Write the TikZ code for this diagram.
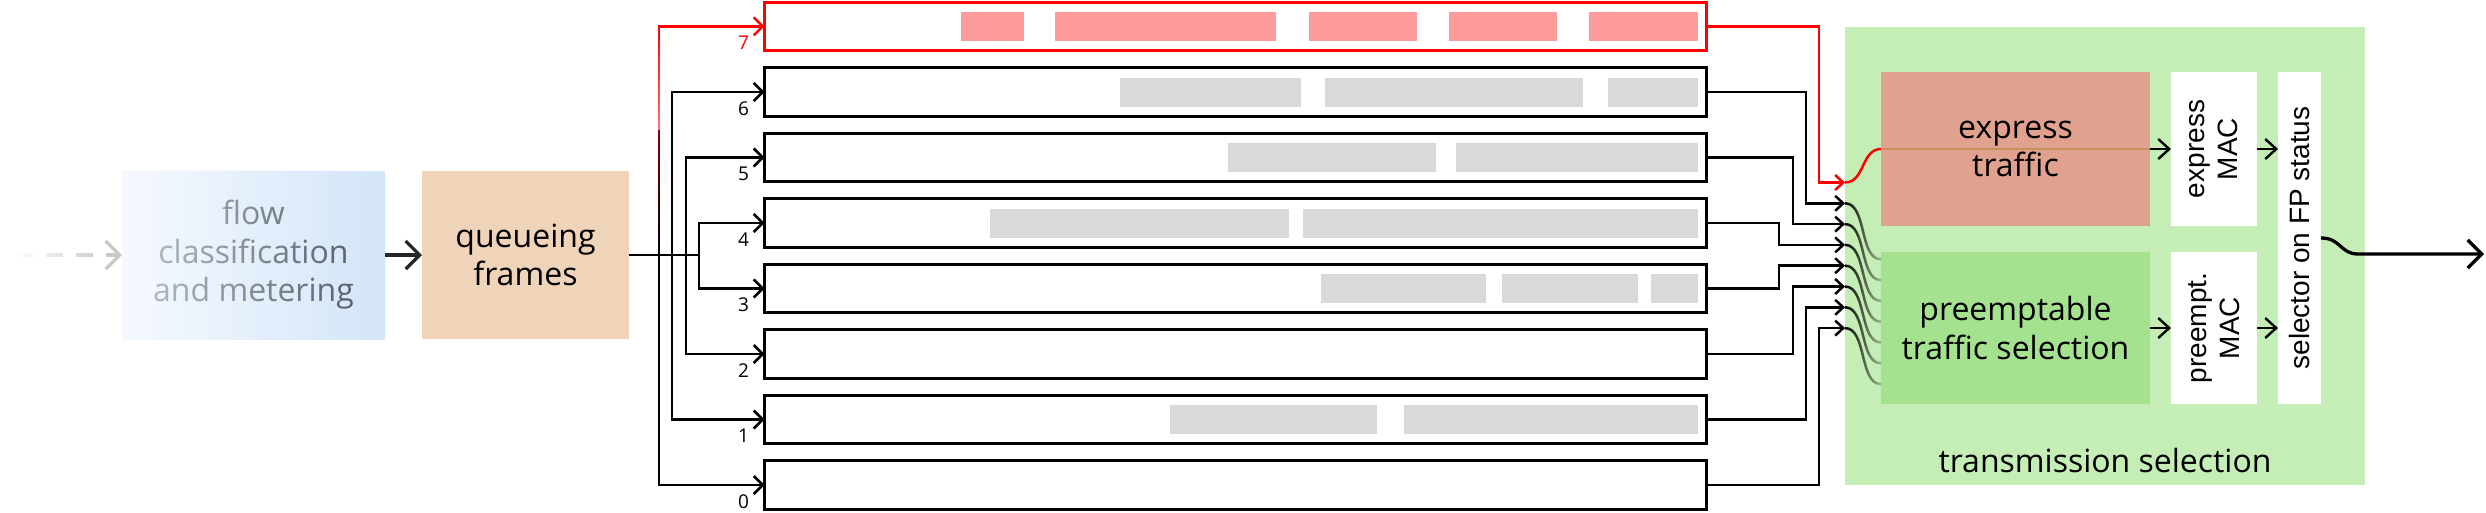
\documentclass[tikz,border=0pt]{standalone}
\usepackage{fontspec}
\setmainfont{Open Sans}
\newfontfamily\helv{Liberation Sans}
\usetikzlibrary{arrows.meta,fadings}
\definecolor{peach}{HTML}{F0D4BA}
\definecolor{salmon}{HTML}{E0A28E}
\definecolor{pgreen}{HTML}{A5E290}
\definecolor{lgreen}{HTML}{C5EEB7}
\definecolor{blockgray}{HTML}{D9D9D9}
\definecolor{blockred}{HTML}{FF9B9B}
\definecolor{flowL}{HTML}{F5F9FE}
\definecolor{flowR}{HTML}{D3E5F8}
\definecolor{flowtext}{HTML}{4F555C}
\definecolor{tanline}{HTML}{C4915D}
\tikzfading[name=textfade, left color=transparent!30, right color=transparent!100]
\tikzfading[name=dashfade, left color=transparent!100, right color=transparent!0]
\tikzfading[name=curvefade, left color=transparent!0, right color=transparent!80]
\tikzfading[name=redfade, top color=transparent!0, middle color=transparent!0, bottom color=transparent!100]
\begin{document}
\begin{tikzpicture}[x=1pt,y=-1pt,
  every node/.style={inner sep=0pt, outer sep=0pt},
  txt/.style={font=\fontsize{32}{38.5}\selectfont, align=center},
  rtxt/.style={font=\helv\fontsize{28}{33}\selectfont, align=center, rotate=90},
  bar/.style={draw=black, line width=2.7pt, minimum width=942pt, minimum height=48.5pt},
  qarr/.style={line width=2.5pt, -{Straight Barb[length=9pt,width=18pt]}},
  farr/.style={line width=2.5pt, -{Straight Barb[length=8pt,width=15pt]}},
  sarr/.style={line width=2.4pt, -{Straight Barb[length=11pt,width=20pt]}},
  barr/.style={line width=3.3pt, -{Straight Barb[length=14pt,width=28pt]}},
  num/.style={font=\fontsize{19}{19}\selectfont, anchor=base east},
  curve/.style={line width=2.5pt},
]
\useasboundingbox (0,0) rectangle (2486,512);

% ---------- left boxes
\node[minimum width=263pt, minimum height=168pt] (flow) at (253.5,255) {};
\shade[left color=flowL, right color=flowR] (flow.north west) rectangle (flow.south east);
\node[txt, text=flowtext] (flowT) at (flow) {flow\\classification\\and metering};
\shade[left color=flowL, right color=flowR, path fading=textfade] (flow.north west) rectangle (flow.south east);

\node[txt, fill=peach, minimum width=207pt, minimum height=168pt] (queue) at (525.5,255) {queueing\\frames};

\coordinate (src) at (16,255);
\coordinate (srcend) at (108,255);
\draw[line width=3.3pt, dash pattern=on 17pt off 13pt, color=black!22, path fading=dashfade] (src) -- (srcend);
\draw[barr, color=black!22] (srcend) -- (flow.west);
\draw[barr, color=black!85] (flow.east) -- (queue.west);

% ---------- queues
\foreach \k/\yy in {0/485,1/419.5,2/354,3/288.5,4/223,5/157.5,6/92}{
  \node[bar] (q\k) at (1235.5,\yy) {};
  \node[num] (n\k) at (749,\yy+23) {\k};
}
\node[bar, draw=red] (q7) at (1235.5,26.5) {};
\node[num, text=red] (n7) at (749,49.5) {7};

% blocks
\foreach \a/\b in {961/1024,1055/1276,1309/1417,1449/1557,1589/1698}
  \fill[blockred] (\a,12) rectangle (\b,41);
\foreach \a/\b in {1120/1301,1325/1583,1608/1698}
  \fill[blockgray] (\a,77.5) rectangle (\b,106.5);
\foreach \a/\b in {1228/1436,1456/1698}
  \fill[blockgray] (\a,143) rectangle (\b,172);
\foreach \a/\b in {990/1289,1303/1698}
  \fill[blockgray] (\a,208.5) rectangle (\b,237.5);
\foreach \a/\b in {1321/1486,1502/1638,1651/1698}
  \fill[blockgray] (\a,274) rectangle (\b,303);
\foreach \a/\b in {1170/1377,1404/1698}
  \fill[blockgray] (\a,405) rectangle (\b,434);

% fan-out from queueing
\coordinate (f7) at (659,26.5);
\coordinate (f6) at (672,92);
\coordinate (f5) at (686,157.5);
\coordinate (f4) at (699,223);
\coordinate (f3) at (699,288.5);
\coordinate (f2) at (686,354);
\coordinate (f1) at (672,419.5);
\coordinate (f0) at (659,485);
\foreach \k in {0,...,6}
  \draw[qarr] (queue.east) -| (f\k) -- (q\k.west);
\draw[line width=2.5pt] (queue.east -| f7) -- (659,130);
\draw[qarr, red, path fading=redfade] (queue.east -| f7) -- (f7) -- (q7.west);

% ---------- transmission selection
\node[fill=lgreen, minimum width=520pt, minimum height=458pt] (trans) at (2105,256) {};
\node[txt] (transT) at (2105,460) {transmission selection};
\node[fill=salmon, minimum width=269pt, minimum height=154pt] (express) at (2015.5,149) {};
\node[fill=pgreen, minimum width=269pt, minimum height=152pt] (preempt) at (2015.5,328) {};
\node[fill=white, minimum width=86pt, minimum height=154pt] (emac) at (2214,149) {};
\node[fill=white, minimum width=86pt, minimum height=152pt] (pmac) at (2214,328) {};
\node[fill=white, minimum width=43pt, minimum height=332pt] (sel) at (2299.5,238) {};
\node[rtxt] (emacT) at (emac) {express\\MAC};
\node[rtxt] (pmacT) at (pmac) {preempt.\\MAC};
\node[rtxt] (selT) at (sel) {selector on FP status};

% fan-in
\coordinate (g7) at (1819,26.5);
\coordinate (g6) at (1806,92);
\coordinate (g5) at (1793,157.5);
\coordinate (g4) at (1779,223);
\coordinate (g3) at (1779,288.5);
\coordinate (g2) at (1793,354);
\coordinate (g1) at (1806,419.5);
\coordinate (g0) at (1819,485);
\foreach \k/\yy in {7/182.5,6/203.3,5/224.1,4/244.9,3/265.7,2/286.5,1/307.3,0/328.1}{
  \coordinate (a\k) at (1845,\yy);
  \coordinate (p\k) at (1881,\yy+56);
}
\foreach \k in {0,...,6}{
  \draw[farr] (q\k.east) -- (g\k) |- (a\k);
  \draw[curve, path fading=curvefade] (a\k) .. controls +(22,0) and +(-22,0) .. (p\k);
}
\draw[farr, red] (q7.east) -- (g7) |- (a7);
\draw[curve, red] (a7) .. controls +(20,0) and +(-20,0) .. (express.west);
\draw[line width=2.2pt, tanline] (express.west) -- (express.east);

\node[txt] (expressT) at (express) {express\\traffic};
\node[txt] (preemptT) at (preempt) {preemptable\\traffic selection};

\draw[sarr] (express.east) -- (emac.west);
\draw[sarr] (emac.east) -- (emac.east -| sel.west);
\draw[sarr] (preempt.east) -- (pmac.west);
\draw[sarr] (pmac.east) -- (pmac.east -| sel.west);

\coordinate (bend) at (2358,254);
\coordinate (out) at (2484,254);
\draw[barr] (sel.east) .. controls +(20,0) and +(-18,0) .. (bend) -- (out);
\end{tikzpicture}
\end{document}
